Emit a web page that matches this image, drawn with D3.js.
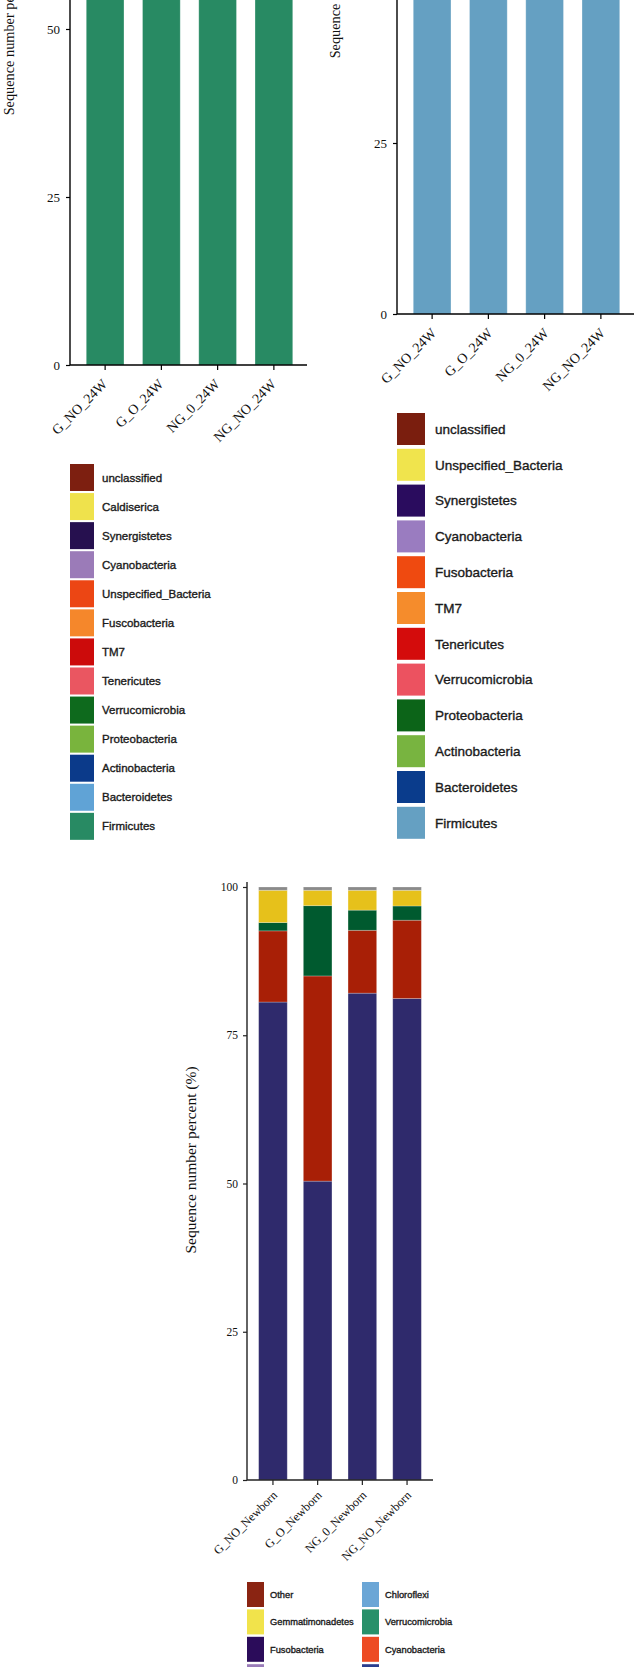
<!DOCTYPE html>
<html>
<head>
<meta charset="utf-8">
<script src="https://cdn.jsdelivr.net/npm/d3@7"></script>
<style>
  html, body { margin: 0; padding: 0; background: #fff; }
  svg { display: block; }
  .tick text { fill: #111; }
</style>
</head>
<body>
<div id="chart"></div>
<script>
// groups on the x axis
const groups24W = ["G_NO_24W", "G_O_24W", "NG_0_24W", "NG_NO_24W"];
const groupsNewborn = ["G_NO_Newborn", "G_O_Newborn", "NG_0_Newborn", "NG_NO_Newborn"];
const percentTicks = [0, 25, 50, 75, 100];

// panel A (24W, left) - only the bottom Firmicutes layer is inside the picture
const phylaA = ["unclassified", "Caldiserica", "Synergistetes", "Cyanobacteria", "Unspecified_Bacteria",
  "Fuscobacteria", "TM7", "Tenericutes", "Verrucomicrobia", "Proteobacteria", "Actinobacteria",
  "Bacteroidetes", "Firmicutes"];
const coloursA = ["#7d1f10", "#efe24c", "#26104f", "#9b7bb8", "#ec4614", "#f5872b", "#cc0b0b",
  "#ea5661", "#0e6a1d", "#79b43d", "#0b3a8a", "#60a3d6", "#288a63"];
const firmicutesA = [70, 66, 73, 69];

// panel B (24W, right)
const phylaB = ["unclassified", "Unspecified_Bacteria", "Synergistetes", "Cyanobacteria", "Fusobacteria",
  "TM7", "Tenericutes", "Verrucomicrobia", "Proteobacteria", "Actinobacteria", "Bacteroidetes", "Firmicutes"];
const coloursB = ["#7a1e0e", "#f0e44d", "#2a0c5e", "#9a7cc0", "#ef4a10", "#f58c2c", "#d40c0c",
  "#ec5260", "#0c6418", "#78b440", "#0a3c8c", "#65a0c2"];
const firmicutesB = [62, 58, 65, 60];

// panel C (Newborn), layers from the bottom up
const layersC = ["Proteobacteria", "Firmicutes", "Bacteroidetes", "Actinobacteria", "Other"];
const layerColoursC = ["#2f2a6c", "#a81f06", "#005a2f", "#e6c11b", "#8a8a8a"];
const proteobacteriaC = [80.6, 50.4, 82.1, 81.2];
const firmicutesC = [12.0, 34.6, 10.6, 13.2];
const bacteroidetesC = [1.4, 11.85, 3.4, 2.4];
const actinobacteriaC = [5.45, 2.6, 3.35, 2.65];
const otherC = [0.55, 0.55, 0.55, 0.55];

// bottom legend, two columns; the 4th row is cut by the picture edge
const legendC = ["Other", "Gemmatimonadetes", "Fusobacteria", "Synergistetes",
  "Chloroflexi", "Verrucomicrobia", "Cyanobacteria", "Actinobacteria"];
const legendColoursC = ["#8a2412", "#f1e34b", "#2b0c5a", "#9a7cb9",
  "#6ba6d6", "#28906a", "#ed4b24", "#2b3e8e"];

const width = 634, height = 1667;
const serif = "'Liberation Serif', 'Times New Roman', serif";
const sans = "'Liberation Sans', Arial, sans-serif";

const svg = d3.select("#chart").append("svg")
  .attr("width", width)
  .attr("height", height);

function drawPanel(opt) {
  const g = svg.append("g");

  const x = d3.scaleBand()
    .domain(opt.groups)
    .range(opt.xRange)
    .paddingInner(opt.pad)
    .paddingOuter(opt.pad / 2);

  const y = d3.scaleLinear()
    .domain([0, 100])
    .range([opt.y0, opt.y100]);

  // stacked bars
  const rows = opt.groups.map((grp, i) => {
    const r = { group: grp };
    opt.keys.forEach((k, j) => { r[k] = opt.values[j][i]; });
    return r;
  });
  const stacked = d3.stack().keys(opt.keys)(rows);

  g.selectAll("g.layer")
    .data(stacked)
    .enter().append("g")
    .attr("class", "layer")
    .attr("fill", (d, i) => opt.colours[i])
    .selectAll("rect")
    .data(d => d)
    .enter().append("rect")
    .attr("x", d => x(d.data.group))
    .attr("width", x.bandwidth())
    .attr("y", d => y(d[1]))
    .attr("height", d => y(d[0]) - y(d[1]))
    .attr("stroke", "#fff")
    .attr("stroke-opacity", 0.3)
    .attr("stroke-width", 0.8);

  // y axis - only the ticks that fall inside the picture
  const shownTicks = percentTicks.filter(v => y(v) > 6);
  const yAxis = g.append("g")
    .attr("transform", `translate(${opt.axisX},0)`)
    .call(d3.axisLeft(y).tickValues(shownTicks).tickSize(4).tickSizeOuter(0).tickPadding(opt.tickPad));
  yAxis.select(".domain").remove();
  yAxis.selectAll("text")
    .style("font-family", serif)
    .style("font-size", opt.tickFont + "px");
  yAxis.selectAll("line").attr("stroke", opt.axisColour).attr("stroke-width", 1.2);

  g.append("line")
    .attr("x1", opt.axisX).attr("x2", opt.axisX)
    .attr("y1", opt.y0).attr("y2", opt.yTop)
    .attr("stroke", opt.axisColour)
    .attr("stroke-width", 1.4);

  // x axis
  const xAxis = g.append("g")
    .attr("transform", `translate(0,${opt.y0})`)
    .call(d3.axisBottom(x).tickSize(5).tickSizeOuter(0));
  xAxis.select(".domain").remove();
  xAxis.selectAll("line").attr("stroke", opt.axisColour).attr("stroke-width", 1.2);
  xAxis.selectAll("text")
    .attr("x", 0).attr("y", 0).attr("dy", 0)
    .attr("text-anchor", "end")
    .attr("transform", `translate(${opt.labelDx},${opt.labelDy}) rotate(-45)`)
    .style("font-family", serif)
    .style("font-size", opt.labelFont + "px");

  g.append("line")
    .attr("x1", opt.axisX).attr("x2", opt.xEnd)
    .attr("y1", opt.y0).attr("y2", opt.y0)
    .attr("stroke", opt.axisColour)
    .attr("stroke-width", 1.4);

  // y axis title
  g.append("text")
    .attr("transform", `translate(${opt.titleX},${opt.titleY}) rotate(-90)`)
    .attr("text-anchor", "middle")
    .style("font-family", serif)
    .style("font-size", opt.titleFont + "px")
    .attr("fill", "#111")
    .text("Sequence number percent (%)");
}

function drawLegend(opt) {
  const g = svg.append("g");
  const item = g.selectAll("g.item")
    .data(opt.names)
    .enter().append("g")
    .attr("class", "item")
    .attr("transform", (d, i) => {
      const col = Math.floor(i / opt.perCol);
      const row = i % opt.perCol;
      return `translate(${opt.x + col * opt.colStep},${opt.y + row * opt.rowStep})`;
    });
  item.append("rect")
    .attr("width", opt.sw)
    .attr("height", opt.sh)
    .attr("fill", (d, i) => opt.colours[i]);
  // labels whose row lies below the picture edge are not drawn
  item.filter((d, i) => opt.y + (i % opt.perCol) * opt.rowStep + opt.sh / 2 + 5 < height)
    .append("text")
    .attr("x", opt.textDx)
    .attr("y", opt.sh / 2)
    .attr("dy", "0.35em")
    .style("font-family", sans)
    .style("font-size", opt.font + "px")
    .attr("fill", "#1a1a1a")
    .attr("stroke", "#1a1a1a")
    .attr("stroke-width", 0.35)
    .text(d => d);
}

// panel A
drawPanel({
  groups: groups24W, keys: ["Firmicutes"], values: [firmicutesA], colours: ["#288a63"],
  xRange: [77, 302], pad: 0.33, y0: 365, y100: -307, yTop: -10,
  axisX: 70, xEnd: 307, axisColour: "#000", tickFont: 13, tickPad: 6,
  labelDx: 3, labelDy: 20, labelFont: 14,
  titleX: 14, titleY: 29, titleFont: 14.3
});

// panel B
drawPanel({
  groups: groups24W, keys: ["Firmicutes"], values: [firmicutesB], colours: ["#65a0c2"],
  xRange: [404, 629], pad: 0.33, y0: 314, y100: -370, yTop: -10,
  axisX: 397, xEnd: 640, axisColour: "#000", tickFont: 13, tickPad: 6,
  labelDx: 5, labelDy: 20, labelFont: 14,
  titleX: 340, titleY: -28, titleFont: 14.3
});

// panel C
drawPanel({
  groups: groupsNewborn, keys: layersC,
  values: [proteobacteriaC, firmicutesC, bacteroidetesC, actinobacteriaC, otherC],
  colours: layerColoursC,
  xRange: [250.6, 429.4], pad: 0.36, y0: 1480, y100: 887, yTop: 882,
  axisX: 247, xEnd: 433, axisColour: "#222", tickFont: 11.5, tickPad: 5,
  labelDx: 5, labelDy: 16, labelFont: 12.2,
  titleX: 196, titleY: 1160, titleFont: 15.5
});

drawLegend({ names: phylaA, colours: coloursA, x: 70, y: 464, perCol: 13, colStep: 0,
  rowStep: 29.07, sw: 24, sh: 27, textDx: 32, font: 11.5 });
drawLegend({ names: phylaB, colours: coloursB, x: 397, y: 413, perCol: 12, colStep: 0,
  rowStep: 35.8, sw: 28, sh: 32, textDx: 38, font: 13.5 });
drawLegend({ names: legendC, colours: legendColoursC, x: 247, y: 1582, perCol: 4, colStep: 115,
  rowStep: 27.4, sw: 17, sh: 25, textDx: 23, font: 9.3 });
</script>
</body>
</html>
